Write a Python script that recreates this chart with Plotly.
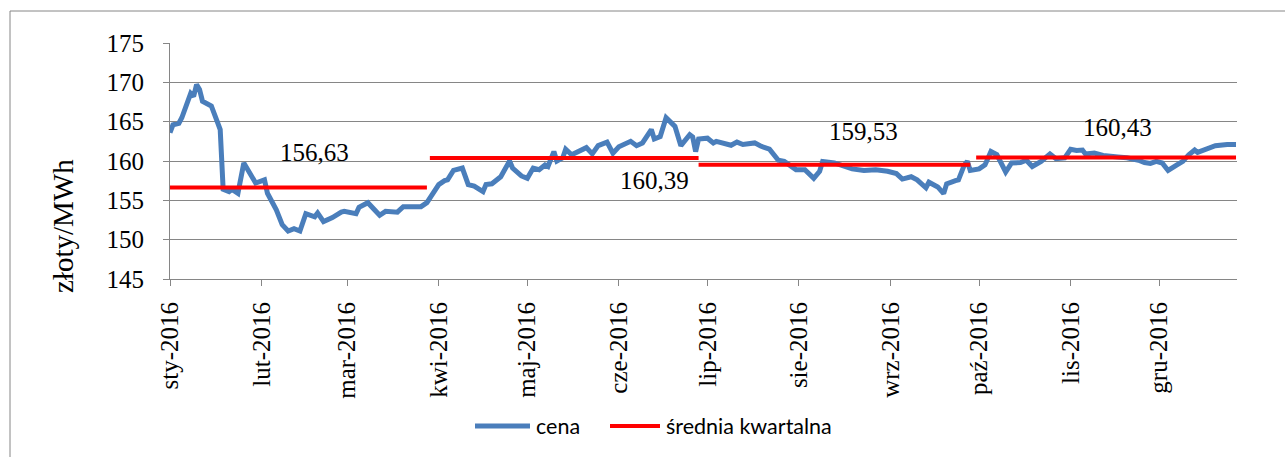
import plotly.graph_objects as go

# ---- data ----
dates = ["2016-01-01", "2016-01-02", "2016-01-04", "2016-01-05", "2016-01-08", "2016-01-09",
         "2016-01-10", "2016-01-11", "2016-01-12", "2016-01-15", "2016-01-17", "2016-01-18",
         "2016-01-19", "2016-01-21", "2016-01-22", "2016-01-24", "2016-01-26", "2016-01-28",
         "2016-01-30", "2016-02-02", "2016-02-03", "2016-02-06", "2016-02-08", "2016-02-10",
         "2016-02-12", "2016-02-14", "2016-02-16", "2016-02-19", "2016-02-20", "2016-02-22",
         "2016-02-25", "2016-02-28", "2016-02-29", "2016-03-04", "2016-03-05", "2016-03-08",
         "2016-03-12", "2016-03-14", "2016-03-18", "2016-03-20", "2016-03-26", "2016-03-28",
         "2016-03-30", "2016-04-01", "2016-04-03", "2016-04-04", "2016-04-06", "2016-04-09",
         "2016-04-11", "2016-04-13", "2016-04-16", "2016-04-17", "2016-04-19", "2016-04-22",
         "2016-04-25", "2016-04-26", "2016-04-29", "2016-05-01", "2016-05-03", "2016-05-05",
         "2016-05-07", "2016-05-08", "2016-05-10", "2016-05-11", "2016-05-13", "2016-05-14",
         "2016-05-16", "2016-05-18", "2016-05-21", "2016-05-23", "2016-05-25", "2016-05-28",
         "2016-05-30", "2016-06-01", "2016-06-05", "2016-06-07", "2016-06-09", "2016-06-12",
         "2016-06-13", "2016-06-15", "2016-06-17", "2016-06-20", "2016-06-22", "2016-06-25",
         "2016-06-26", "2016-06-27", "2016-06-28", "2016-07-01", "2016-07-03", "2016-07-04",
         "2016-07-09", "2016-07-11", "2016-07-13", "2016-07-17", "2016-07-19", "2016-07-22",
         "2016-07-25", "2016-07-27", "2016-07-31", "2016-08-03", "2016-08-05", "2016-08-06",
         "2016-08-08", "2016-08-09", "2016-08-13", "2016-08-16", "2016-08-19", "2016-08-23",
         "2016-08-27", "2016-08-31", "2016-09-03", "2016-09-05", "2016-09-08", "2016-09-10",
         "2016-09-13", "2016-09-14", "2016-09-17", "2016-09-19", "2016-09-20", "2016-09-23",
         "2016-09-24", "2016-09-26", "2016-09-27", "2016-09-28", "2016-10-01", "2016-10-03",
         "2016-10-05", "2016-10-07", "2016-10-10", "2016-10-12", "2016-10-15", "2016-10-17",
         "2016-10-19", "2016-10-22", "2016-10-25", "2016-10-27", "2016-10-30", "2016-11-01",
         "2016-11-03", "2016-11-05", "2016-11-06", "2016-11-09", "2016-11-12", "2016-11-17",
         "2016-11-20", "2016-11-24", "2016-11-26", "2016-11-28", "2016-11-30", "2016-12-02",
         "2016-12-04", "2016-12-07", "2016-12-09", "2016-12-11", "2016-12-13", "2016-12-14",
         "2016-12-17", "2016-12-20", "2016-12-24", "2016-12-27"]

cena = [163.6, 164.6, 164.8, 165.5, 168.6, 168.2,
        169.7, 169.1, 167.6, 167.0, 165.0, 164.0,
        156.4, 156.1, 156.4, 155.9, 159.75, 158.5,
        157.2, 157.6, 155.9, 153.8, 151.9, 151.1,
        151.4, 151.1, 153.3, 152.9, 153.4, 152.3,
        152.8, 153.5, 153.6, 153.3, 154.1, 154.7,
        153.1, 153.6, 153.5, 154.2, 154.2, 154.7,
        155.8, 157.0, 157.5, 157.6, 158.8, 159.1,
        157.0, 156.8, 156.1, 157.0, 157.1, 158.0,
        160.0, 159.1, 158.1, 157.8, 159.1, 158.9,
        159.5, 159.3, 161.2, 160.0, 160.4, 161.5,
        160.8, 161.2, 161.7, 160.9, 161.95, 162.4,
        161.0, 161.8, 162.5, 161.95, 162.3, 164.0,
        162.8, 163.1, 165.5, 164.4, 161.95, 163.35,
        163.05, 161.2, 162.8, 162.9, 162.3, 162.5,
        162.0, 162.4, 162.1, 162.3, 161.9, 161.5,
        160.1, 159.95, 158.9, 158.9, 158.3, 157.8,
        158.7, 159.95, 159.75, 159.3, 159.0, 158.8,
        158.9, 158.7, 158.4, 157.7, 158.0, 157.6,
        156.6, 157.3, 156.7, 155.85, 157.1, 157.5,
        157.6, 159.5, 159.95, 158.8, 159.0, 159.5,
        161.2, 160.8, 158.6, 159.75, 159.8, 160.1,
        159.3, 159.95, 160.9, 160.3, 160.4, 161.5,
        161.35, 161.4, 160.9, 161.0, 160.7, 160.5,
        160.4, 160.1, 159.8, 159.7, 159.95, 159.75,
        158.8, 159.5, 159.95, 160.8, 161.4, 161.1,
        161.5, 161.95, 162.1, 162.1]

quarter_start = ["2016-01-01", "2016-03-29", "2016-06-28", "2016-09-30"]
quarter_end = ["2016-03-28", "2016-06-28", "2016-09-28", "2016-12-27"]
quarter_avg = [156.63, 160.39, 159.53, 160.43]
quarter_labels = ["156,63", "160,39", "159,53", "160,43"]

month_ticks = ["2016-01-01", "2016-02-01", "2016-03-01", "2016-04-01", "2016-05-01", "2016-06-01",
               "2016-07-01", "2016-08-01", "2016-09-01", "2016-10-01", "2016-11-01", "2016-12-01"]
month_labels = ["sty-2016", "lut-2016", "mar-2016", "kwi-2016", "maj-2016", "cze-2016",
                "lip-2016", "sie-2016", "wrz-2016", "paź-2016", "lis-2016", "gru-2016"]

series_names = ["cena", "średnia kwartalna"]

# ---- build red segments from quarter arrays ----
avg_x, avg_y = [], []
for s, e, v in zip(quarter_start, quarter_end, quarter_avg):
    avg_x += [s, e, None]
    avg_y += [v, v, None]

SERIF = "Liberation Serif"
SANS = "Lato"
GRID = "#868686"
BLUE = "#4A7EBB"
RED = "#FF0000"
L, R, T, B = 170, 48, 43, 178
PW, PH = 1285 - L - R, 457 - T - B


def px_x(p):
    return (p - L) / PW


def px_y(p):
    return (457 - B - p) / PH


fig = go.Figure()
fig.add_trace(go.Scatter(x=dates, y=cena, mode="lines", name=series_names[0],
                         line=dict(color=BLUE, width=5), showlegend=False))
fig.add_trace(go.Scatter(x=avg_x, y=avg_y, mode="lines", name=series_names[1],
                         line=dict(color=RED, width=4), connectgaps=False, showlegend=False))

# quarter average labels
label_pos = [("2016-02-19", 161.1), ("2016-06-13", 157.5), ("2016-08-23", 163.8), ("2016-11-17", 164.3)]
for (lx, ly), txt in zip(label_pos, quarter_labels):
    fig.add_annotation(x=lx, y=ly, xref="x", yref="y", text=txt, showarrow=False,
                       font=dict(family=SERIF, size=25, color="black"),
                       xanchor="center", yanchor="middle")

# y-axis title as annotation (Excel places it low)
fig.add_annotation(x=px_x(63), y=px_y(226), xref="paper", yref="paper",
                   text="złoty/MWh", textangle=-90, showarrow=False,
                   font=dict(family=SERIF, size=29, color="black"),
                   xanchor="center", yanchor="middle")

# legend (Excel style: long line samples)
legend_items = [(series_names[0], BLUE, 5, 475, 530), (series_names[1], RED, 4, 610, 660)]
for name, col, w, xa, xb in legend_items:
    fig.add_shape(type="line", xref="paper", yref="paper",
                  x0=px_x(xa), x1=px_x(xb), y0=px_y(426), y1=px_y(426),
                  line=dict(color=col, width=w))
    fig.add_annotation(x=px_x(xb + 4), y=px_y(426), xref="paper", yref="paper",
                       text=name, showarrow=False, xanchor="left", yanchor="middle",
                       font=dict(family=SANS, size=21.5, color="black"))

# chart border
fig.add_shape(type="rect", xref="paper", yref="paper",
              x0=px_x(10), x1=px_x(1300), y0=px_y(470), y1=px_y(11),
              line=dict(color=GRID, width=1), fillcolor="rgba(0,0,0,0)", layer="below")

fig.update_layout(
    width=1285, height=457,
    margin=dict(l=L, r=R, t=T, b=B, autoexpand=False),
    paper_bgcolor="white", plot_bgcolor="white",
    showlegend=False,
)

fig.update_xaxes(type="date", range=["2016-01-01", "2016-12-27 08:00"], automargin=False,
                 tickvals=month_ticks, ticktext=month_labels, tickangle=-90,
                 ticks="outside", ticklen=6, tickcolor=GRID,
                 showline=True, linecolor=GRID, linewidth=1,
                 showgrid=False, zeroline=False,
                 tickfont=dict(family=SERIF, size=25, color="black"),
                 ticklabelstandoff=6)

fig.update_yaxes(range=[145, 175], tickvals=[145, 150, 155, 160, 165, 170, 175], automargin=False,
                 ticks="outside", ticklen=6, tickcolor=GRID,
                 showline=True, linecolor=GRID, linewidth=1,
                 showgrid=True, gridcolor=GRID, gridwidth=1, zeroline=False,
                 tickfont=dict(family=SERIF, size=25, color="black"),
                 ticklabelstandoff=14)

fig.write_html("out.html", config={"displayModeBar": False},
               post_script="document.body.style.margin='0';document.body.style.padding='0';")
